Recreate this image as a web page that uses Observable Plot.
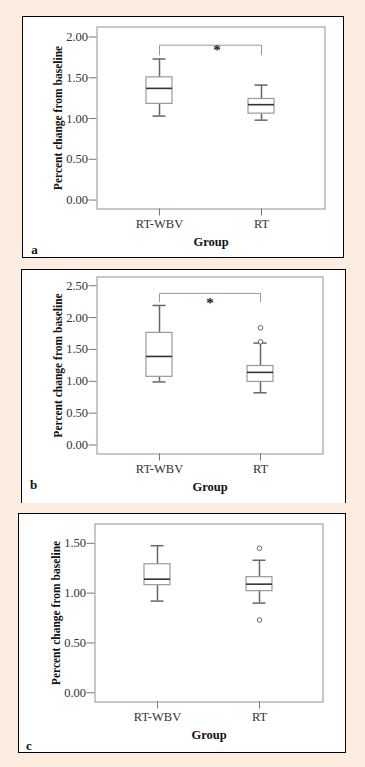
<!DOCTYPE html>
<html><head><meta charset="utf-8">
<script src="https://cdn.jsdelivr.net/npm/d3@7"></script>
<script src="https://cdn.jsdelivr.net/npm/@observablehq/plot@0.6"></script>
<style>
html,body{margin:0;padding:0;background:#fdece0;}
#page{position:relative;width:365px;height:767px;overflow:hidden;background:#fdece0;}
.panel{position:absolute;background:#fff;border:1.5px solid #000;box-sizing:border-box;}
.panel svg{position:absolute;left:0;top:0;}
</style></head><body><div id="page"></div>
<script>
const groups = ["RT-WBV", "RT"];

// Panel a
const aMin = [1.03, 0.98];
const aQ1 = [1.18, 1.06];
const aMedian = [1.37, 1.17];
const aQ3 = [1.505, 1.24];
const aMax = [1.73, 1.41];
const aOutlierGroup = [];
const aOutlierValue = [];
const aBracket = [1.78, 1.90];
const aTicks = [0, 0.5, 1, 1.5, 2];

// Panel b
const bMin = [0.99, 0.82];
const bQ1 = [1.07, 0.99];
const bMedian = [1.39, 1.14];
const bQ3 = [1.76, 1.24];
const bMax = [2.19, 1.60];
const bOutlierGroup = ["RT", "RT"];
const bOutlierValue = [1.84, 1.62];
const bBracket = [2.25, 2.38];
const bTicks = [0, 0.5, 1, 1.5, 2, 2.5];

// Panel c
const cMin = [0.92, 0.90];
const cQ1 = [1.08, 1.02];
const cMedian = [1.14, 1.09];
const cQ3 = [1.29, 1.16];
const cMax = [1.476, 1.33];
const cOutlierGroup = ["RT", "RT"];
const cOutlierValue = [1.45, 0.73];
const cBracket = null;
const cTicks = [0, 0.5, 1, 1.5];

const yLabel = "Percent change from baseline";
const xLabel = "Group";
const significance = "*";
const tickFmt = d3.format(".2f");

// layout (page pixel positions of each panel frame and plot area)
const layouts = [
  {letter:"a", frame:{x:22,y:16,w:322,h:242,noBottom:false}, plot:{x0:97,x1:325,y0:27,y1:209}, yDomain:[-0.11,2.123], starDx:6, starDy:5, letterDx:-62.5, letterDy:41},
  {letter:"b", frame:{x:21,y:269,w:325,h:234,noBottom:true}, plot:{x0:97,x1:323,y0:277,y1:454}, yDomain:[-0.141,2.637], starDx:0, starDy:10, letterDx:-63.5, letterDy:31},
  {letter:"c", frame:{x:18,y:513,w:328,h:240,noBottom:false}, plot:{x0:95,x1:323,y0:524,y1:702}, yDomain:[-0.093,1.694], starDx:0, starDy:0, letterDx:-66, letterDy:44}
];
const series = [
  {min:aMin,q1:aQ1,median:aMedian,q3:aQ3,max:aMax,outG:aOutlierGroup,outV:aOutlierValue,bracket:aBracket,ticks:aTicks},
  {min:bMin,q1:bQ1,median:bMedian,q3:bQ3,max:bMax,outG:bOutlierGroup,outV:bOutlierValue,bracket:bBracket,ticks:bTicks},
  {min:cMin,q1:cQ1,median:cMedian,q3:cQ3,max:cMax,outG:cOutlierGroup,outV:cOutlierValue,bracket:cBracket,ticks:cTicks}
];

const page = document.getElementById("page");
const B = 1.5;

layouts.forEach((L, k) => {
  const s = series[k];
  const rows = groups.map((g,i)=>({group:g, min:s.min[i], q1:s.q1[i], median:s.median[i], q3:s.q3[i], max:s.max[i]}));
  const outliers = s.outG.map((g,i)=>({group:g, value:s.outV[i]}));
  const bracket = s.bracket ? [
    {group:groups[0], y:s.bracket[0]}, {group:groups[0], y:s.bracket[1]},
    {group:groups[1], y:s.bracket[1]}, {group:groups[1], y:s.bracket[0]}
  ] : [];

  const F = L.frame, P = L.plot;
  const innerX = F.x + B, innerY = F.y + B;
  const W = F.w - 2*B, H = F.h - (F.noBottom ? B : 2*B);

  const div = document.createElement("div");
  div.className = "panel";
  div.style.left = F.x + "px"; div.style.top = F.y + "px";
  div.style.width = F.w + "px"; div.style.height = F.h + "px";
  if (F.noBottom) div.style.borderBottom = "none";

  const marks = [
    Plot.frame({stroke:"#a3a3a3", strokeWidth:1.2}),
    Plot.axisY(s.ticks, {tickSize:8, tickPadding:1, tickFormat:tickFmt, stroke:"#777", fill:"#333", fontSize:12.5, label:null}),
    Plot.axisX({tickSize:7, tickPadding:3, stroke:"#777", fill:"#333", fontSize:12.5, label:null}),
    Plot.ruleX(rows, {x:"group", y1:"q3", y2:"max", stroke:"#666", strokeWidth:1.5}),
    Plot.ruleX(rows, {x:"group", y1:"min", y2:"q1", stroke:"#666", strokeWidth:1.5}),
    Plot.tickY(rows, {x:"group", y:"max", insetLeft:6.5, insetRight:6.5, stroke:"#666", strokeWidth:1.5}),
    Plot.tickY(rows, {x:"group", y:"min", insetLeft:6.5, insetRight:6.5, stroke:"#666", strokeWidth:1.5}),
    Plot.barY(rows, {x:"group", y1:"q1", y2:"q3", fill:"white", stroke:"#999", strokeWidth:1.2}),
    Plot.tickY(rows, {x:"group", y:"median", stroke:"#333", strokeWidth:1.6}),
    Plot.dot(outliers, {x:"group", y:"value", r:2.3, stroke:"#666", fill:"white", strokeWidth:1}),
    Plot.line(bracket, {x:"group", y:"y", stroke:"#9a9a9a", strokeWidth:1}),
    Plot.text([yLabel], {frameAnchor:"left", textAnchor:"middle", lineAnchor:"middle", rotate:-90, dx:-39, fontWeight:"bold", fontSize:11.5, fill:"#111", text:d=>d}),
    Plot.text([xLabel], {frameAnchor:"bottom", textAnchor:"middle", lineAnchor:"middle", dy:33, fontWeight:"bold", fontSize:12.5, fill:"#111", text:d=>d}),
    Plot.text([L.letter], {frameAnchor:"bottom-left", textAnchor:"middle", lineAnchor:"middle", dx:L.letterDx, dy:L.letterDy, fontWeight:"bold", fontSize:13, fill:"#111", text:d=>d})
  ];
  if (s.bracket) {
    marks.push(Plot.text([s.bracket[1]], {y:d=>d, text:()=>significance, lineAnchor:"middle", dx:L.starDx, dy:L.starDy, fontSize:15, fontWeight:"bold", fill:"#222"}));
  }

  const chart = Plot.plot({
    width: W, height: H,
    marginLeft: P.x0 - innerX, marginRight: innerX + W - P.x1,
    marginTop: P.y0 - innerY, marginBottom: innerY + H - P.y1,
    style: {fontFamily:"'Liberation Serif', 'Times New Roman', serif", fontSize:"13px", background:"white", overflow:"visible"},
    x: {type:"band", domain:groups, paddingInner:0.745, paddingOuter:0.49, label:null},
    y: {domain:L.yDomain, label:null},
    marks
  });
  div.appendChild(chart);
  page.appendChild(div);
});
</script></body></html>
